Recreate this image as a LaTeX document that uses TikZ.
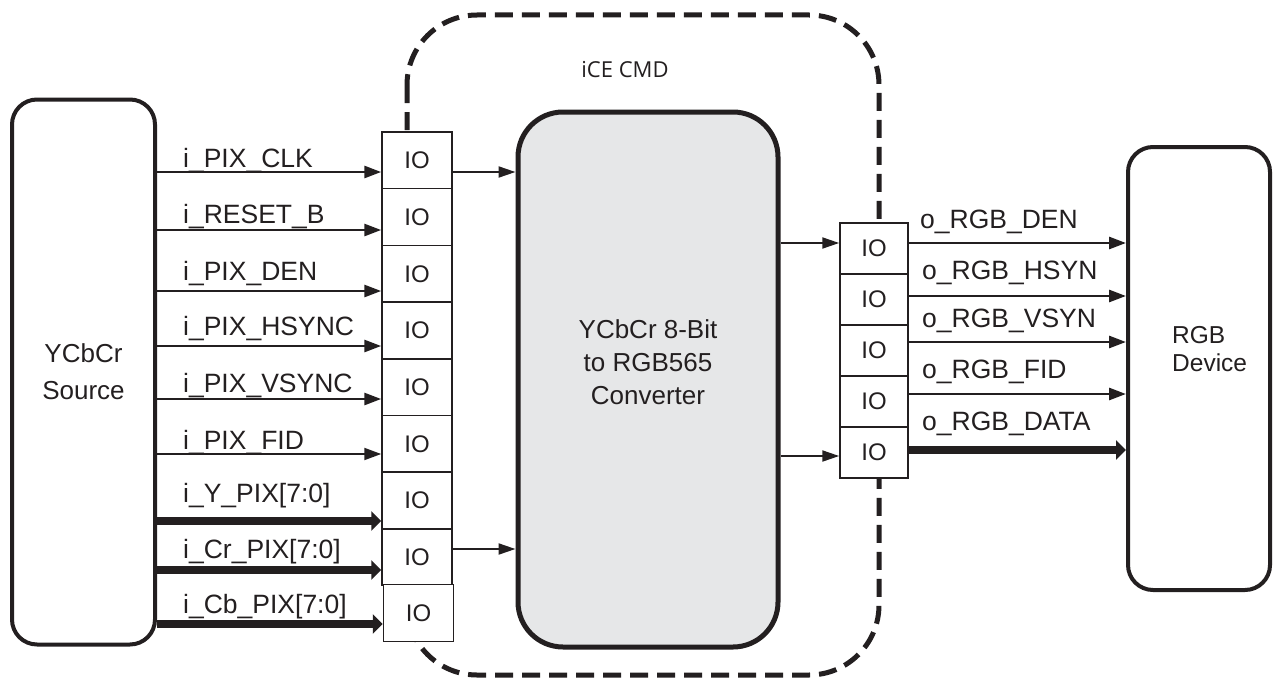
\documentclass[tikz,border=0pt]{standalone}
\usepackage{fontspec}
\setmainfont{Liberation Sans}
\newfontfamily\osans{Open Sans}
\usetikzlibrary{arrows.meta}
\definecolor{ink}{HTML}{231F20}
\definecolor{boxgray}{HTML}{E6E7E8}
\begin{document}
\begin{tikzpicture}[x=1pt,y=-1pt,
  every node/.style={text=ink},
  iobox/.style={draw=ink, fill=white, line width=1.5pt, minimum width=70pt, inner sep=0pt, font=\fontsize{24}{26}\selectfont},
  sig/.style={anchor=base west, inner sep=0pt, font=\fontsize{26.5}{28}\selectfont},
  block/.style={draw=ink, line width=4pt, inner sep=0pt},
  thinarr/.style={draw=ink, line width=2.8pt, -{Triangle[length=17pt,width=12pt]}},
  midarr/.style={draw=ink, line width=2pt, -{Triangle[length=17pt,width=11pt]}},
  thickarr/.style={draw=ink, line width=8.5pt, -{Triangle[length=10pt,width=19pt]}},
  boundary/.style={draw=ink, line width=5pt, dash pattern=on 18pt off 9pt, rounded corners=70pt}
]
\useasboundingbox (0,0) rectangle (1273,677);

% dashed iCE CMD boundary
\draw[boundary] (407,15) rectangle (879,675);
\node[font=\osans\fontsize{22}{26}\selectfont] (ice) at (625,70) {iCE CMD};

% blocks
\node[block, rounded corners=25pt, minimum width=143pt, minimum height=545pt, align=center,
      font=\fontsize{26}{37}\selectfont] (src) at (83.5,372) {YCbCr\\Source};
\node[block, line width=5pt, fill=boxgray, rounded corners=45pt, minimum width=260pt, minimum height=535pt] (conv) at (648,379.5) {};
\node[align=center, font=\fontsize{26}{33}\selectfont] (convtxt) at (648,362) {YCbCr 8-Bit\\to RGB565\\Converter};
\node[block, rounded corners=25pt, minimum width=142pt, minimum height=443pt] (dev) at (1199,368.5) {};
\node[anchor=west, align=left, inner sep=0pt, font=\fontsize{24.5}{28}\selectfont] (devtxt) at (1172,349) {RGB\\Device};

% left IO column
\foreach \i in {1,...,8}{
  \node[iobox, minimum height=56.7pt] (L\i) at (417,{132+56.7*(\i-0.5)}) {IO};
}
\node[iobox, minimum height=57pt] (L9) at (418.5,613) {IO};

% right IO column
\foreach \i in {1,...,5}{
  \node[iobox, minimum width=68pt, minimum height=51pt] (R\i) at (874,{223+51*(\i-0.5)}) {IO};
}

% input signals
\draw[thinarr] (src.east |- 0,172) -- (L1.west |- 0,172);
\draw[thinarr] (src.east |- 0,230) -- (L2.west |- 0,230);
\draw[thinarr] (src.east |- 0,291) -- (L3.west |- 0,291);
\draw[thinarr] (src.east |- 0,346) -- (L4.west |- 0,346);
\draw[thinarr] (src.east |- 0,399) -- (L5.west |- 0,399);
\draw[thinarr, line width=2pt] (src.east |- 0,454) -- (L6.west |- 0,454);
\draw[thickarr] (src.east |- 0,521) -- (L7.west |- 0,521);
\draw[thickarr] (src.east |- 0,570) -- (L8.west |- 0,570);
\draw[thickarr] (src.east |- 0,624) -- (L9.west |- 0,624);

\node[sig] (s1) at (183,167) {i\_PIX\_CLK};
\node[sig] (s2) at (183,223) {i\_RESET\_B};
\node[sig] (s3) at (183,280) {i\_PIX\_DEN};
\node[sig] (s4) at (183,335) {i\_PIX\_HSYNC};
\node[sig] (s5) at (183,392) {i\_PIX\_VSYNC};
\node[sig] (s6) at (183,449) {i\_PIX\_FID};
\node[sig] (s7) at (183,502) {i\_Y\_PIX[7:0]};
\node[sig] (s8) at (183,558) {i\_Cr\_PIX[7:0]};
\node[sig] (s9) at (183,613) {i\_Cb\_PIX[7:0]};

% into / out of converter
\draw[midarr] (L1.east |- 0,172) -- (conv.west |- 0,172);
\draw[midarr] (L8.east |- 0,549) -- (conv.west |- 0,549);
\draw[midarr] (conv.east |- 0,243) -- (R1.west |- 0,243);
\draw[midarr] (conv.east |- 0,456) -- (R5.west |- 0,456);

% output signals
\draw[thinarr] (R1.east |- 0,243) -- (dev.west |- 0,243);
\draw[thinarr] (R2.east |- 0,296) -- (dev.west |- 0,296);
\draw[thinarr] (R3.east |- 0,342) -- (dev.west |- 0,342);
\draw[thinarr] (R4.east |- 0,394) -- (dev.west |- 0,394);
\draw[thickarr] (R5.east |- 0,450) -- (dev.west |- 0,450);

\node[sig] (o1) at (920,228) {o\_RGB\_DEN};
\node[sig] (o2) at (922,279) {o\_RGB\_HSYN};
\node[sig] (o3) at (922,327) {o\_RGB\_VSYN};
\node[sig] (o4) at (922,378) {o\_RGB\_FID};
\node[sig] (o5) at (922,430) {o\_RGB\_DATA};
\end{tikzpicture}
\end{document}
